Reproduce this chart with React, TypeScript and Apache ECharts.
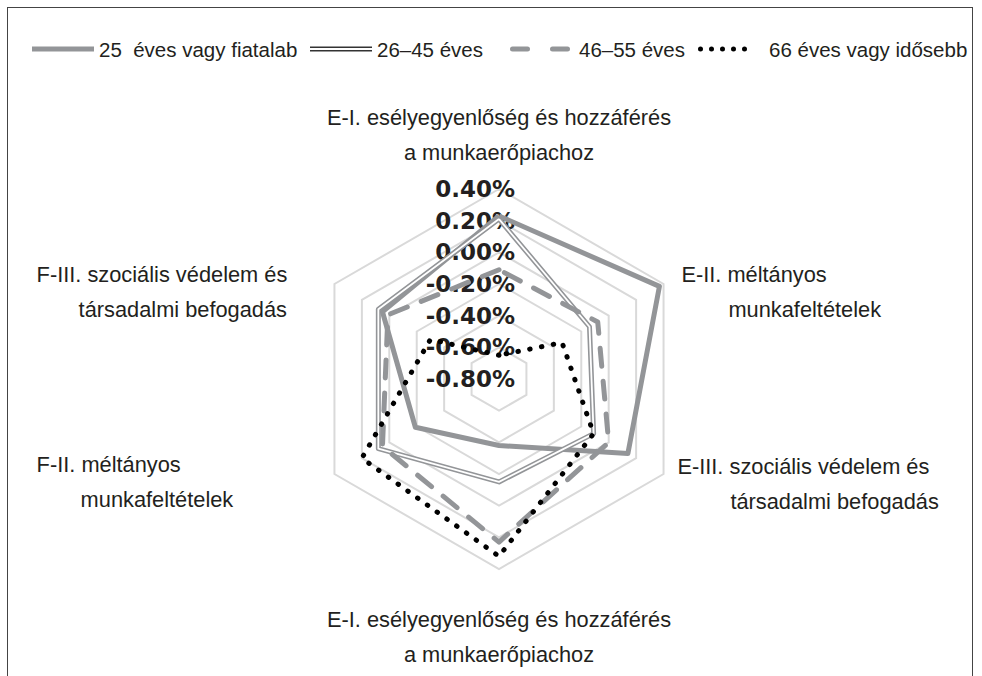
import React, { useEffect, useRef } from 'react';
import * as echarts from 'echarts';

// ---- data ----
const indicatorNames = [
  'E-I. esélyegyenlőség és hozzáférés\na munkaerőpiachoz',
  'F-III. szociális védelem és\ntársadalmi befogadás',
  'F-II. méltányos\nmunkafeltételek',
  'E-I. esélyegyenlőség és hozzáférés\na munkaerőpiachoz',
  'E-III. szociális védelem és\ntársadalmi befogadás',
  'E-II. méltányos\nmunkafeltételek',
];
const axisMin = -0.8;
const axisMax = 0.4;
const axisSplits = 6;
const seriesNames = ['25  éves vagy fiatalab', '26–45 éves', '46–55 éves', '66 éves vagy idősebb'];
const young = [0.23, 0.05, -0.19, -0.38, 0.14, 0.37];
const middleAged = [0.21, 0.08, 0.08, -0.15, -0.11, -0.14];
const older = [-0.11, 0.01, 0.05, 0.23, 0.0, -0.08];
const oldest = [-0.65, -0.3, 0.2, 0.32, -0.11, -0.34];

// ---- styling ----
const FONT = "'Liberation Sans', Arial, sans-serif";
const GRAY = '#939598';
const TEXT = '#231f20';

const nameKeys = ['t', 'ul', 'll', 'b', 'lr', 'ur'];
const namePads = [
  [0, 0, 3, 0],
  [31, 0, 0, 0],
  [0, 0, 0, 0],
  [17, 0, 0, 0],
  [4, 0, 0, 0],
  [31, 0, 0, 0],
];

function richName(name: string, key: string) {
  const [a, b] = name.split('\n');
  return `{${key}1|${a}}\n{${key}2|${b}}`;
}

export default function App() {
  const ref = useRef<HTMLDivElement>(null);
  useEffect(() => {
    if (!ref.current) return;
    const chart = echarts.init(ref.current, undefined, { renderer: 'svg' });
    const base = { fontFamily: FONT, fontSize: 21.8, lineHeight: 35, color: TEXT };
    const rich: any = {
      t1: base,
      t2: base,
      b1: base,
      b2: base,
      ur1: { ...base, padding: [0, 0, 0, 4] },
      ur2: { ...base, padding: [0, 0, 0, 51] },
      lr1: { ...base },
      lr2: { ...base, padding: [0, 0, 0, 53] },
      ul1: { ...base, width: 284, align: 'left' },
      ul2: { ...base, width: 242, align: 'left', padding: [0, 0, 0, 42] },
      ll1: { ...base, width: 284, align: 'left' },
      ll2: { ...base, width: 240, align: 'left', padding: [0, 0, 0, 44] },
    };
    const indicator = indicatorNames.map((n, i) => ({
      name: richName(n, nameKeys[i]),
      min: axisMin,
      max: axisMax,
      nameTextStyle: { padding: namePads[i] },
      axisLabel:
        i === 0
          ? {
              show: true,
              margin: -16,
              fontFamily: "'DejaVu Sans', sans-serif",
              fontWeight: 'bold',
              fontSize: 23,
              color: TEXT,
              formatter: (v: number) => (Math.abs(v) < 1e-9 ? 0 : v).toFixed(2) + '%',
            }
          : { show: false },
    }));

    const legendBase = {
      orient: 'horizontal',
      padding: 0,
      top: 35,
      selectedMode: false,
      textStyle: { fontFamily: FONT, fontSize: 20.5, color: TEXT, lineHeight: 28 },
    };
    const dots = [2.5, 13.5, 24.5, 35.5, 46.5]
      .map((c) => `M${c - 2.5},2.5A2.5,2.5,0,1,0,${c + 2.5},2.5A2.5,2.5,0,1,0,${c - 2.5},2.5Z`)
      .join(' ');

    chart.setOption({
      animation: false,
      backgroundColor: '#ffffff',
      legend: [
        {
          ...legendBase,
          left: 32,
          itemWidth: 62,
          itemHeight: 5,
          data: [{ name: seriesNames[0], icon: 'path://M0,0H62V5H0Z', itemStyle: { color: GRAY, borderWidth: 0 } }],
        },
        {
          ...legendBase,
          left: 310,
          itemWidth: 62,
          itemHeight: 5,
          data: [
            {
              name: seriesNames[1],
              icon: 'path://M0,0H62V1.6H0Z M0,3.4H62V5H0Z',
              itemStyle: { color: '#333333', borderWidth: 0 },
            },
          ],
        },
        {
          ...legendBase,
          left: 510,
          itemWidth: 60,
          itemHeight: 5,
          textStyle: { ...legendBase.textStyle, padding: [0, 0, 0, 4] },
          data: [
            {
              name: seriesNames[2],
              icon:
                'path://M2.5,0H17.5A2.5,2.5,0,0,1,17.5,5H2.5A2.5,2.5,0,0,1,2.5,0Z M42.5,0H57.5A2.5,2.5,0,0,1,57.5,5H42.5A2.5,2.5,0,0,1,42.5,0Z',
              itemStyle: { color: GRAY, borderWidth: 0 },
            },
          ],
        },
        {
          ...legendBase,
          left: 698,
          itemWidth: 49,
          itemHeight: 5,
          textStyle: { ...legendBase.textStyle, padding: [0, 0, 0, 17] },
          data: [{ name: seriesNames[3], icon: 'path://' + dots, itemStyle: { color: '#000000', borderWidth: 0 } }],
        },
      ],
      radar: {
        center: [499, 379],
        radius: 190,
        startAngle: 90,
        shape: 'polygon',
        splitNumber: axisSplits,
        axisNameGap: 16,
        indicator,
        axisName: { color: TEXT, fontFamily: FONT, fontSize: 21.8, rich },
        axisLine: { show: false },
        axisTick: { show: false },
        axisLabel: { show: false },
        splitLine: { lineStyle: { color: '#d9d9d9', width: 2 } },
        splitArea: { show: false },
      },
      series: [
        {
          type: 'radar',
          symbol: 'none',
          data: [
            { name: seriesNames[0], value: young, lineStyle: { color: GRAY, width: 5 }, itemStyle: { color: GRAY } },
            { name: seriesNames[1], value: middleAged, lineStyle: { color: GRAY, width: 5 }, itemStyle: { color: GRAY } },
            { name: '26–45 éves (belső)', value: middleAged, lineStyle: { color: '#ffffff', width: 1.8 }, itemStyle: { color: '#ffffff' } },
            {
              name: seriesNames[2],
              value: older,
              lineStyle: { color: GRAY, width: 5, type: [18, 15], cap: 'round' },
              itemStyle: { color: GRAY },
            },
            {
              name: seriesNames[3],
              value: oldest,
              lineStyle: { color: '#000000', width: 5, type: [0.5, 11.5], cap: 'round' },
              itemStyle: { color: '#000000' },
            },
          ],
        },
      ],
    });
    return () => chart.dispose();
  }, []);

  return (
    <>
      <div
        ref={ref}
        style={{ position: 'fixed', left: 0, top: 0, width: 982, height: 676, background: '#fff' }}
      />
      <div
        style={{
          position: 'fixed',
          left: 7,
          top: 7,
          width: 966,
          height: 700,
          border: '1px solid #444',
          boxSizing: 'border-box',
          pointerEvents: 'none',
        }}
      />
    </>
  );
}
